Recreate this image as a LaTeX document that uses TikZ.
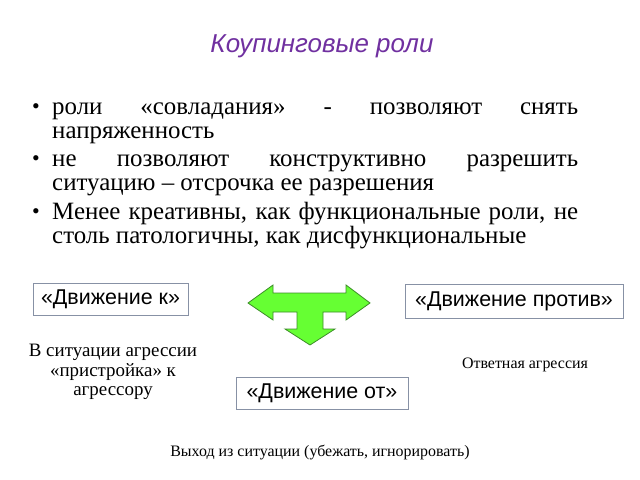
\documentclass[tikz,border=0pt]{standalone}
\usepackage{fontspec}
\setmainfont{Liberation Serif}
\setsansfont{Liberation Sans}
\usetikzlibrary{positioning}

\definecolor{titlepurple}{RGB}{112,48,160}
\definecolor{arrowfill}{RGB}{102,255,51}
\definecolor{arrowline}{RGB}{60,140,40}
\definecolor{boxline}{RGB}{135,145,165}

\begin{document}
\begin{tikzpicture}[x=1bp, y=-1bp,
    item/.style={anchor=base west, inner sep=0pt, text width=526bp, align=justify,
        font=\fontsize{25}{24}\selectfont},
    dot/.style={anchor=base, inner sep=0pt, font=\fontsize{22}{22}\selectfont},
    move/.style={draw=boxline, line width=0.8pt, inner sep=0pt, minimum height=32bp,
        font=\sffamily\fontsize{21.5}{21.5}\selectfont},
    note/.style={inner sep=0pt, align=center, font=\fontsize{16}{19.5}\selectfont}]
\useasboundingbox (0,0) rectangle (640,480);

\node[anchor=base, inner sep=0pt, text=titlepurple,
    font=\sffamily\itshape\fontsize{26}{26}\selectfont] (title) at (322,53) {Коупинговые роли};

\node[dot] (b1) at (36,114) {•};
\node[item] (i1) at (52,115) {роли «совладания» - позволяют снять напряженность};
\node[dot] (b2) at (36,166) {•};
\node[item] (i2) at (52,167) {не позволяют конструктивно разрешить\linebreak ситуацию – отсрочка ее разрешения};
\node[dot] (b3) at (36,219) {•};
\node[item] (i3) at (52,220) {Менее креативны, как функциональные роли, не столь патологичны, как дисфункциональные};

\node[move, minimum width=155bp] (mk) at (110.5,299) {«Движение к»};
\node[move, minimum width=218bp, minimum height=34bp] (mp) at (514,301.5) {«Движение против»};
\node[move, minimum width=172bp] (mo) at (322,393.5) {«Движение от»};

% T-shaped arrow
\draw[fill=arrowfill, draw=arrowline, line width=0.8pt, line join=miter]
    (248,303) -- (273,285) -- (273,293) -- (346,293) -- (346,285) -- (370,303)
    -- (346,320) -- (346,312) -- (323,312) -- (323,329) -- (335,329) -- (310,345)
    -- (285,329) -- (297,329) -- (297,312) -- (273,312) -- (273,320) -- cycle;

\node[note, font=\fontsize{19}{19.5}\selectfont] (nk) at (113,372) {В ситуации агрессии\\«пристройка» к\\агрессору};
\node[note] (np) at (525,365) {Ответная агрессия};
\node[note] (no) at (320,453) {Выход из ситуации (убежать, игнорировать)};
\end{tikzpicture}
\end{document}
